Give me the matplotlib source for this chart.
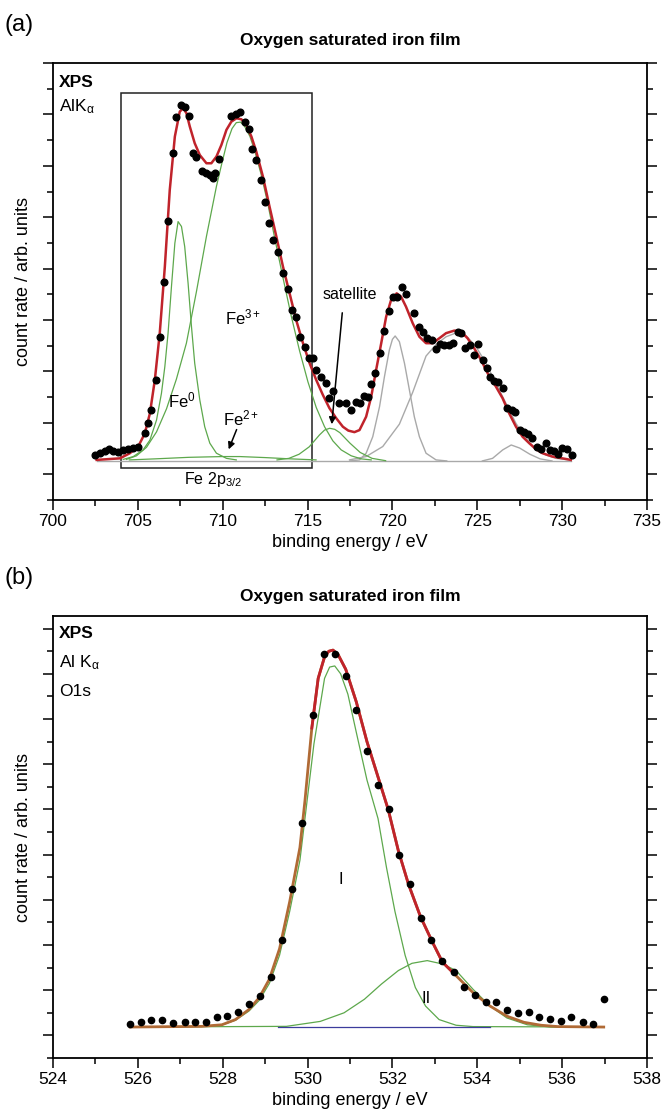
import numpy as np
import matplotlib.pyplot as plt
from matplotlib.ticker import MultipleLocator

plt.rcParams['font.family'] = ['Liberation Sans', 'DejaVu Sans']
plt.rcParams['mathtext.fontset'] = 'custom'
plt.rcParams['mathtext.rm'] = 'Liberation Sans'
plt.rcParams['mathtext.it'] = 'Liberation Sans'

# ---------------- panel (a): Fe 2p ----------------
fe_x = [702.47, 702.76, 703.06, 703.31, 703.55, 703.84, 704.14, 704.43, 704.73, 705.02,
        705.41, 705.61, 705.80, 706.06, 706.29, 706.53, 706.78, 707.08, 707.24, 707.53,
        707.76, 708.02, 708.25, 708.45, 708.75, 709.00, 709.24, 709.43, 709.57, 709.78,
        710.47, 710.76, 711.04, 711.29, 711.55, 711.75, 711.98, 712.24, 712.47, 712.73,
        712.96, 713.25, 713.55, 713.84, 714.10, 714.33, 714.57, 714.82, 715.08, 715.31,
        715.51, 715.80, 716.10, 716.29, 716.49, 716.84, 717.24, 717.53, 717.86, 718.06,
        718.31, 718.55, 718.75, 719.00, 719.29, 719.53, 719.78, 720.02, 720.27, 720.55,
        720.80, 721.29, 721.55, 721.78, 722.04, 722.31, 722.57, 722.80, 723.06, 723.31,
        723.55, 723.84, 724.04, 724.29, 724.57, 724.82, 725.06, 725.31, 725.55, 725.76,
        726.00, 726.24, 726.49, 726.75, 727.02, 727.24, 727.51, 727.76, 728.00, 728.25,
        728.51, 728.78, 729.04, 729.27, 729.53, 729.78, 730.02, 730.27, 730.57]
fe_y = [1.75, 1.84, 1.91, 1.97, 1.91, 1.85, 1.95, 1.97, 2.01, 2.08,
        2.59, 2.98, 3.50, 4.67, 6.35, 8.50, 10.86, 13.49, 14.89, 15.37,
        15.30, 14.94, 13.49, 13.36, 12.78, 12.71, 12.65, 12.52, 12.71, 13.27,
        14.94, 15.02, 15.08, 14.72, 14.42, 13.65, 13.23, 12.45, 11.61, 10.77,
        10.12, 9.66, 8.82, 8.20, 7.39, 7.13, 6.35, 5.97, 5.54, 5.51,
        5.06, 4.80, 4.54, 3.96, 4.25, 3.79, 3.76, 3.50, 3.83, 3.76,
        4.06, 4.02, 4.50, 4.95, 5.71, 6.59, 7.37, 7.91, 7.91, 8.28,
        8.02, 7.29, 6.74, 6.55, 6.29, 6.23, 5.88, 6.06, 6.03, 6.03,
        6.12, 6.55, 6.51, 5.93, 6.03, 5.64, 6.06, 5.45, 5.12, 4.80,
        4.63, 4.60, 4.35, 3.57, 3.50, 3.44, 2.72, 2.66, 2.57, 2.40,
        2.07, 1.97, 2.21, 1.95, 1.91, 1.79, 2.01, 1.98, 1.75]

fe_fit_x = [702.57, 703.94, 704.53, 705.02, 705.41, 705.71, 706.00, 706.29, 706.59, 706.88,
            707.18, 707.47, 707.67, 707.86, 708.06, 708.35, 708.65, 709.04, 709.33, 709.63,
            709.92, 710.22, 710.51, 710.81, 711.10, 711.39, 711.69, 711.98, 712.37, 712.76,
            713.16, 713.55, 713.94, 714.33, 714.73, 715.12, 715.51, 715.90, 716.29, 716.69,
            717.08, 717.40, 717.76, 718.06, 718.45, 718.75, 719.04, 719.34, 719.63, 719.92,
            720.25, 720.51, 720.80, 721.20, 721.59, 721.98, 722.37, 722.76, 723.16, 723.65,
            724.04, 724.43, 724.82, 725.22, 725.61, 726.10, 726.49, 726.88, 727.28, 727.67,
            728.06, 728.45, 728.84, 729.43, 730.02, 730.51]
fe_fit_y = [1.56, 1.62, 1.82, 2.08, 2.59, 3.37, 4.67, 6.49, 9.08, 12.06,
            14.14, 15.11, 15.24, 15.05, 14.53, 13.88, 13.42, 13.10, 13.10, 13.36,
            13.81, 14.40, 14.72, 14.85, 14.81, 14.59, 14.14, 13.55, 12.58, 11.41,
            10.25, 9.08, 8.04, 7.00, 6.10, 5.32, 4.67, 4.09, 3.57, 3.18,
            2.85, 2.70, 2.64, 2.72, 3.24, 4.02, 5.06, 6.10, 7.13, 7.78,
            8.04, 7.91, 7.52, 6.87, 6.35, 6.10, 6.10, 6.29, 6.49, 6.59,
            6.55, 6.29, 5.90, 5.45, 4.93, 4.41, 3.96, 3.37, 2.85, 2.46,
            2.21, 1.98, 1.82, 1.69, 1.62, 1.56]

fe0_x = [704.14, 704.73, 705.31, 705.71, 706.10, 706.39, 706.59, 706.78, 706.98, 707.18,
         707.37, 707.57, 707.76, 707.96, 708.16, 708.35, 708.65, 708.94, 709.24, 709.63,
         710.22, 710.80]
fe0_y = [1.58, 1.69, 1.95, 2.33, 3.11, 4.15, 5.19, 6.49, 8.30, 9.99,
         10.83, 10.64, 9.86, 8.43, 6.74, 5.32, 3.89, 2.85, 2.21, 1.82,
         1.62, 1.56]

fe3_x = [704.33, 704.92, 705.51, 706.10, 706.69, 707.27, 707.86, 708.45, 709.04, 709.63,
         709.95, 710.25, 710.55, 710.80, 711.05, 711.30, 711.60, 711.90, 712.25, 712.65,
         713.06, 713.55, 714.04, 714.53, 715.02, 715.51, 716.00, 716.49, 716.98, 717.57,
         718.16, 718.75]
fe3_y = [1.58, 1.72, 2.05, 2.65, 3.55, 4.70, 6.10, 8.10, 10.25, 12.20,
         13.10, 13.90, 14.45, 14.68, 14.70, 14.52, 14.15, 13.55, 12.70, 11.55,
         10.20, 8.65, 7.15, 5.80, 4.60, 3.60, 2.85, 2.30, 1.95, 1.72,
         1.60, 1.56]

fe2_x = [704.5, 706.0, 708.0, 710.0, 711.0, 712.5, 714.0, 715.5]
fe2_y = [1.56, 1.60, 1.66, 1.69, 1.69, 1.65, 1.60, 1.56]

sat_x = [713.2, 713.9, 714.5, 715.1, 715.7, 716.0, 716.3, 716.6, 716.9, 717.5, 718.1, 718.8, 719.6]
sat_y = [1.56, 1.62, 1.78, 2.07, 2.53, 2.72, 2.79, 2.75, 2.62, 2.21, 1.85, 1.62, 1.53]

p1_x = [717.5, 718.06, 718.45, 718.84, 719.24, 719.53, 719.82, 720.00, 720.16, 720.41,
        720.71, 721.00, 721.29, 721.59, 721.98, 722.57, 723.2]
p1_y = [1.52, 1.56, 1.82, 2.46, 3.63, 4.80, 5.84, 6.25, 6.38, 6.16,
        5.32, 4.28, 3.24, 2.46, 1.82, 1.56, 1.52]

p2_x = [717.47, 718.45, 719.43, 720.41, 721.20, 721.98, 722.57, 723.16, 723.75, 724.33,
        724.92, 725.51, 726.10, 726.69, 727.28, 727.86, 728.45, 729.04, 729.63, 730.41]
p2_y = [1.56, 1.69, 2.08, 2.95, 4.20, 5.60, 6.05, 6.35, 6.50, 6.40,
        5.97, 5.32, 4.54, 3.76, 2.98, 2.40, 1.97, 1.75, 1.62, 1.56]

p3_x = [725.3, 725.9, 726.5, 727.0, 727.5, 728.1, 728.7, 729.4]
p3_y = [1.52, 1.62, 1.95, 2.14, 2.02, 1.78, 1.60, 1.52]

base_a_x = [702.57, 730.51]
base_a_y = [1.52, 1.52]

# ---------------- panel (b): O 1s ----------------
o_x = [525.82, 526.07, 526.32, 526.58, 526.83, 527.10, 527.35, 527.60, 527.86, 528.11,
       528.36, 528.62, 528.87, 529.14, 529.39, 529.64, 529.88, 530.13, 530.39, 530.64,
       530.90, 531.15, 531.41, 531.66, 531.91, 532.16, 532.42, 532.68, 532.92, 533.18,
       533.44, 533.68, 533.94, 534.20, 534.45, 534.70, 534.96, 535.21, 535.46, 535.72,
       535.97, 536.22, 536.48, 536.73, 536.98]
o_y = [1.52, 1.59, 1.70, 1.70, 1.55, 1.59, 1.61, 1.59, 1.82, 1.85,
       2.03, 2.40, 2.74, 3.58, 5.24, 7.46, 10.40, 15.2, 17.9, 17.9,
       16.9, 15.4, 13.6, 12.1, 11.04, 8.98, 7.68, 6.21, 5.21, 4.29,
       3.79, 3.15, 2.77, 2.49, 2.48, 2.12, 1.97, 2.04, 1.80, 1.73,
       1.65, 1.82, 1.59, 1.52, 2.63]

o_env_x = [525.82, 527.50, 527.98, 528.30, 528.62, 528.86, 529.10, 529.34, 529.58, 529.82,
           529.94, 530.10, 530.25, 530.40, 530.50, 530.60, 530.72, 530.90, 531.15, 531.40,
           531.65, 531.90, 532.14, 532.38, 532.66, 532.94, 533.18, 533.46, 533.90, 534.30,
           534.70, 535.10, 535.50, 535.90, 536.98]
o_env_y = [1.37, 1.40, 1.47, 1.70, 2.15, 2.67, 3.49, 4.84, 6.93, 9.32,
           11.42, 14.60, 16.80, 17.75, 18.00, 18.05, 17.85, 17.20, 15.75, 14.00,
           12.50, 11.00, 9.17, 7.68, 6.26, 5.14, 4.24, 3.72, 2.89, 2.30,
           1.85, 1.58, 1.45, 1.39, 1.37]

o1_x = [525.82, 527.50, 527.98, 528.30, 528.62, 528.86, 529.10, 529.34, 529.58, 529.82,
        530.15, 530.40, 530.52, 530.64, 530.78, 530.95, 531.15, 531.40, 531.66, 531.86,
        532.06, 532.30, 532.54, 532.78, 533.10, 533.50, 533.90, 536.98]
o1_y = [1.37, 1.40, 1.46, 1.67, 2.08, 2.55, 3.30, 4.55, 6.50, 8.75,
        13.90, 16.80, 17.30, 17.35, 17.00, 16.10, 14.40, 12.30, 10.60, 8.43,
        6.48, 4.54, 3.12, 2.30, 1.70, 1.45, 1.39, 1.37]

o2_x = [525.82, 529.50, 530.30, 530.86, 531.34, 531.74, 532.14, 532.46, 532.82, 533.18,
        533.50, 533.90, 534.30, 534.70, 535.18, 535.74, 536.98]
o2_y = [1.37, 1.40, 1.62, 2.00, 2.60, 3.27, 3.87, 4.19, 4.31, 4.16,
        3.87, 3.04, 2.30, 1.77, 1.47, 1.37, 1.37]

base_b_x = [529.3, 534.3]
base_b_y = [1.37, 1.37]

# ---------------- figure ----------------
W, H = 662, 1114
fig = plt.figure(figsize=(W / 100, H / 100), dpi=100)


def px_axes(l, t, r, b):
    return fig.add_axes([l / W, 1 - b / H, (r - l) / W, (b - t) / H])


RED = '#c0232b'
GREEN = '#5da84c'
GRAY = '#a9a9a9'
BROWN = '#b06a35'
BLUE = '#3c3c9c'


def style(ax):
    ax.tick_params(which='both', direction='out', top=False, right=True,
                   labelleft=False, width=1.1, labelsize=12.5, pad=3)
    ax.tick_params(which='major', length=7)
    ax.tick_params(which='minor', length=4)
    ax.yaxis.set_major_locator(MultipleLocator(2, offset=1))
    ax.yaxis.set_minor_locator(MultipleLocator(1))
    for s in ax.spines.values():
        s.set_linewidth(1.3)
    ax.set_xlabel('binding energy / eV', fontsize=13, labelpad=4)
    ax.set_ylabel('count rate / arb. units', fontsize=13, labelpad=8)


# panel (a)
ax1 = px_axes(53, 63, 647, 500)
ax1.plot(base_a_x, base_a_y, color=GRAY, lw=1.0)
ax1.plot(p1_x, p1_y, color=GRAY, lw=1.0)
ax1.plot(p2_x, p2_y, color=GRAY, lw=1.0)
ax1.plot(p3_x, p3_y, color=GRAY, lw=1.0)
ax1.plot(fe2_x, fe2_y, color=GREEN, lw=0.9)
ax1.plot(fe0_x, fe0_y, color=GREEN, lw=0.9)
ax1.plot(fe3_x, fe3_y, color=GREEN, lw=0.9)
ax1.plot(sat_x, sat_y, color=GREEN, lw=0.9)
ax1.plot(fe_fit_x, fe_fit_y, color=RED, lw=1.8)
ax1.plot(fe_x, fe_y, 'o', color='black', ms=4.8)
ax1.set_xlim(700, 735)
ax1.set_ylim(0, 17)
ax1.xaxis.set_major_locator(MultipleLocator(5))
ax1.xaxis.set_minor_locator(MultipleLocator(2.5))
style(ax1)

ax1.add_patch(plt.Rectangle((704.0, 1.25), 11.24, 14.59, fill=False,
                            edgecolor='#222222', lw=1.1))
ax1.text(0.01, 0.955, 'XPS', transform=ax1.transAxes, fontsize=12.5,
         fontweight='bold', va='center')
ax1.text(0.01, 0.9, r'AlK$_{\alpha}$', transform=ax1.transAxes, fontsize=12.5,
         va='center')
ax1.text(707.57, 3.89, r'Fe$^{0}$', fontsize=12, ha='center', va='center')
ax1.text(711.18, 7.12, r'Fe$^{3+}$', fontsize=12, ha='center', va='center')
ax1.text(711.10, 3.19, r'Fe$^{2+}$', fontsize=12, ha='center', va='center')
ax1.text(717.47, 7.98, 'satellite', fontsize=11.5, ha='center', va='center')
ax1.text(709.41, 0.78, r'Fe 2p$_{3/2}$', fontsize=11.5, ha='center', va='center')
ax1.annotate('', xy=(710.29, 1.87), xytext=(710.88, 2.84),
             arrowprops=dict(arrowstyle='-|>', color='black', lw=1.1,
                             mutation_scale=10))
ax1.annotate('', xy=(716.41, 2.84), xytext=(717.06, 7.39),
             arrowprops=dict(arrowstyle='-|>', color='black', lw=1.1,
                             mutation_scale=10))

# panel (b)
ax2 = px_axes(53, 616, 647, 1058)
ax2.plot(o1_x, o1_y, color=GREEN, lw=0.9)
ax2.plot(o2_x, o2_y, color=GREEN, lw=0.9)
ax2.plot(base_b_x, base_b_y, color=BLUE, lw=0.9)
ax2.plot(o_env_x, o_env_y, color=BROWN, lw=2.0)
ax2.plot(o_env_x[11:28], o_env_y[11:28], color=RED, lw=2.0)
ax2.plot(o_x, o_y, 'o', color='black', ms=4.5)
ax2.set_xlim(524, 538)
ax2.set_ylim(0, 19.56)
ax2.xaxis.set_major_locator(MultipleLocator(2))
ax2.xaxis.set_minor_locator(MultipleLocator(1))
style(ax2)

ax2.text(0.01, 0.96, 'XPS', transform=ax2.transAxes, fontsize=12.5,
         fontweight='bold', va='center')
ax2.text(0.01, 0.895, r'Al K$_{\alpha}$', transform=ax2.transAxes, fontsize=12.5,
         va='center')
ax2.text(0.01, 0.83, 'O1s', transform=ax2.transAxes, fontsize=12.5, va='center')
ax2.text(530.79, 7.9, 'I', fontsize=12, ha='center', va='center')
ax2.text(532.80, 2.63, 'II', fontsize=12, ha='center', va='center')

# panel letters and titles
fig.text(5 / W, 1 - 25 / H, '(a)', fontsize=17, va='center', ha='left')
fig.text(350 / W, 1 - 41 / H, 'Oxygen saturated iron film', fontsize=12.5,
         fontweight='bold', ha='center', va='center')
fig.text(5 / W, 1 - 578 / H, '(b)', fontsize=17, va='center', ha='left')
fig.text(350 / W, 1 - 596 / H, 'Oxygen saturated iron film', fontsize=12.5,
         fontweight='bold', ha='center', va='center')

fig.savefig('out.png', dpi=100)
